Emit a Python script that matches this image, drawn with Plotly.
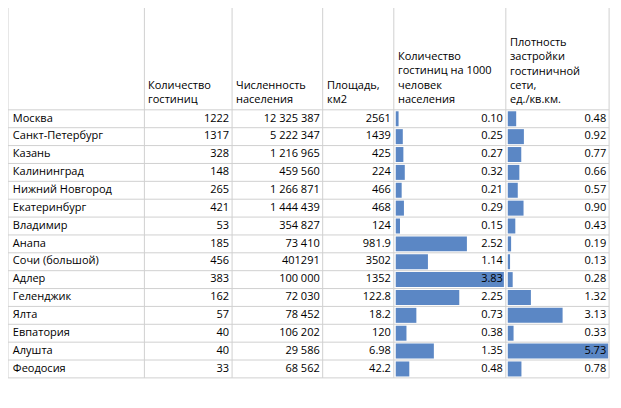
import plotly.graph_objects as go

cities = ["Москва", "Санкт-Петербург", "Казань", "Калининград", "Нижний Новгород",
          "Екатеринбург", "Владимир", "Анапа", "Сочи (большой)", "Адлер", "Геленджик",
          "Ялта", "Евпатория", "Алушта", "Феодосия"]
hotels = ["1222", "1317", "328", "148", "265", "421", "53", "185", "456", "383", "162",
          "57", "40", "40", "33"]
population = ["12 325 387", "5 222 347", "1 216 965", "459 560", "1 266 871", "1 444 439",
              "354 827", "73 410", "401291", "100 000", "72 030", "78 452", "106 202",
              "29 586", "68 562"]
area = ["2561", "1439", "425", "224", "466", "468", "124", "981.9", "3502", "1352",
        "122.8", "18.2", "120", "6.98", "42.2"]
per1000 = [0.10, 0.25, 0.27, 0.32, 0.21, 0.29, 0.15, 2.52, 1.14, 3.83, 2.25, 0.73,
           0.38, 1.35, 0.48]
density = [0.48, 0.92, 0.77, 0.66, 0.57, 0.90, 0.43, 0.19, 0.13, 0.28, 1.32, 3.13,
           0.33, 5.73, 0.78]
headers = ["Количество<br>гостиниц", "Численность<br>населения", "Площадь,<br>км2",
           "Количество<br>гостиниц на 1000<br>человек<br>населения",
           "Плотность<br>застройки<br>гостиничной<br>сети,<br>ед./кв.км."]

cols = [0, 140, 230, 323, 396, 511, 617]
top, rh = 106, 18.6
n = len(cities)
ys = [top + rh * (i + 0.5) for i in range(n)]
font = dict(family="Open Sans, DejaVu Sans", size=11, color="#000")
bar_col = "#5b87c5"

fig = go.Figure()
# data bars
s1 = (cols[5] - cols[4] - 4) / max(per1000)
s2 = (cols[6] - cols[5] - 3) / max(density)
fig.add_trace(go.Bar(y=ys, x=[v * s1 for v in per1000], base=cols[4] + 2, orientation="h",
                     width=rh - 3, marker=dict(color=bar_col, line_width=0)))
fig.add_trace(go.Bar(y=ys, x=[v * s2 for v in density], base=cols[5] + 2, orientation="h",
                     width=rh - 3, marker=dict(color=bar_col, line_width=0)))

fig.add_trace(go.Scatter(x=[cols[0] + 5] * n, y=ys, text=cities, mode="text",
                         textposition="middle right", textfont=font))
for j, col in enumerate([hotels, population, area,
                         [f"{v:.2f}" for v in per1000], [f"{v:.2f}" for v in density]]):
    fig.add_trace(go.Scatter(x=[cols[j + 2] - 3] * n, y=ys, text=col, mode="text",
                             textposition="middle left", textfont=font))

for j, h in enumerate(headers):
    fig.add_annotation(x=cols[j + 1] + 2, y=top - 2, text=h, showarrow=False,
                       xanchor="left", yanchor="bottom", align="left", font=font)

grid = dict(color="#d0d0d0", width=1)
for c in cols:
    fig.add_shape(type="line", x0=c, x1=c, y0=0, y1=top + rh * n, line=grid, layer="below")
for i in range(n + 1):
    fig.add_shape(type="line", x0=0, x1=cols[-1], y0=top + rh * i, y1=top + rh * i,
                  line=grid, layer="below")

# page body keeps an 8px margin, so the figure is sized to fit inside the window
fig.update_layout(width=605, height=392, margin=dict(l=0, r=0, t=0, b=0),
                  plot_bgcolor="white", paper_bgcolor="white", showlegend=False,
                  barmode="overlay")
fig.update_xaxes(range=[0, 621], visible=False)
fig.update_yaxes(range=[408, 0], visible=False)
fig.write_html("out.html")
